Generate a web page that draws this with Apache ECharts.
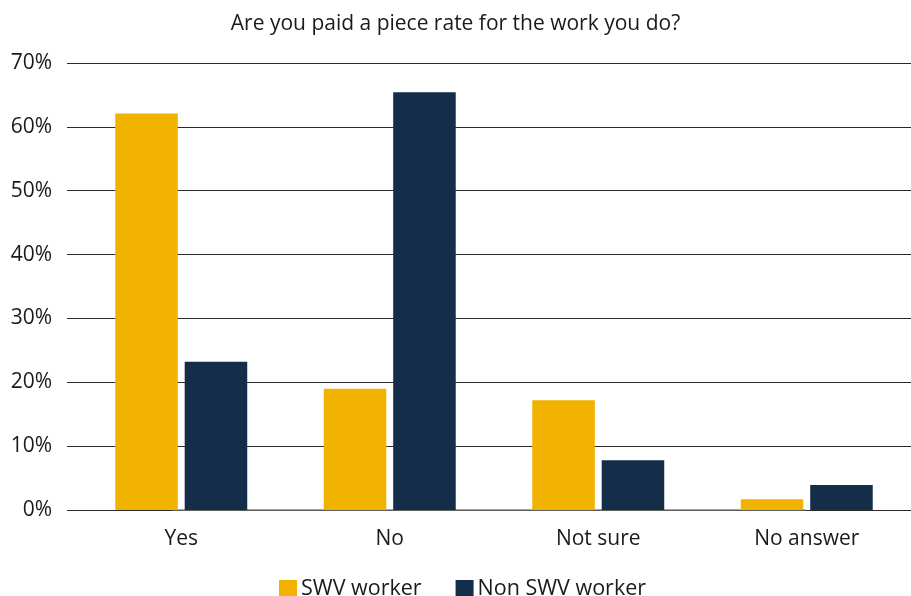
<!DOCTYPE html>
<html>
<head>
<meta charset="utf-8">
<script src="https://cdn.jsdelivr.net/npm/echarts@6/dist/echarts.min.js"></script>
<style>html,body{margin:0;padding:0;background:#fff}#c{width:911px;height:596px}</style>
</head>
<body>
<div id="c"></div>
<script>
const categories = ["Yes", "No", "Not sure", "No answer"];
const swvWorker = [62.1, 19.0, 17.2, 1.7];
const nonSwvWorker = [23.2, 65.4, 7.8, 3.9];
const seriesNames = ["SWV worker", "Non SWV worker"];
const titleText = "Are you paid a piece rate for the work you do?";
const yTicks = {min: 0, max: 70, interval: 10};

const chart = echarts.init(document.getElementById('c'), null, {renderer: 'canvas'});
const font = "'Open Sans', 'Noto Sans', sans-serif";
const txt = '#1a1a1a';
chart.setOption({
  animation: false,
  textStyle: {fontFamily: font},
  title: {
    text: titleText, left: 'center', top: 9,
    textStyle: {fontFamily: font, fontSize: 21, fontWeight: 'normal', color: txt}
  },
  legend: {
    data: seriesNames, top: 578, left: 279, padding: 0,
    itemWidth: 18, itemHeight: 18, itemGap: 34, icon: 'rect',
    textStyle: {fontFamily: font, fontSize: 21.5, color: txt, padding: [0, 0, 0, -1], lineHeight: 18}
  },
  grid: [
    {left: 67, right: 0, top: 63, bottom: 86},
    {left: 77, right: -5, top: 63, bottom: 86}
  ],
  xAxis: [
    {gridIndex: 0, type: 'category', data: categories, show: false},
    {
      gridIndex: 1, type: 'category', data: categories,
      axisLine: {show: false},
      axisTick: {show: false},
      axisLabel: {fontFamily: font, fontSize: 21, color: txt, margin: 19}
    }
  ],
  yAxis: [
    {
      gridIndex: 0, type: 'value', min: yTicks.min, max: yTicks.max, interval: yTicks.interval,
      axisLine: {show: false}, axisTick: {show: false},
      axisLabel: {formatter: '{value}%', fontFamily: font, fontSize: 21, color: txt, margin: 15},
      splitLine: {lineStyle: {color: '#2a2a2a', width: 1}}
    },
    {
      gridIndex: 1, type: 'value', min: yTicks.min, max: yTicks.max, interval: yTicks.interval,
      show: false, splitLine: {show: false}
    }
  ],
  series: [
    {name: seriesNames[0], type: 'bar', xAxisIndex: 1, yAxisIndex: 1, data: swvWorker, barWidth: '30%', barGap: '11%', itemStyle: {color: '#F2B200'}},
    {name: seriesNames[1], type: 'bar', xAxisIndex: 1, yAxisIndex: 1, data: nonSwvWorker, barWidth: '30%', barGap: '11%', itemStyle: {color: '#142D48'}},
    {type: 'line', xAxisIndex: 0, yAxisIndex: 0, data: [0, 0, 0, 0], showSymbol: false, silent: true,
     lineStyle: {color: '#888', width: 1.5}, z: 1, legendHoverLink: false, tooltip: {show: false}}
  ]
});
</script>
</body>
</html>
